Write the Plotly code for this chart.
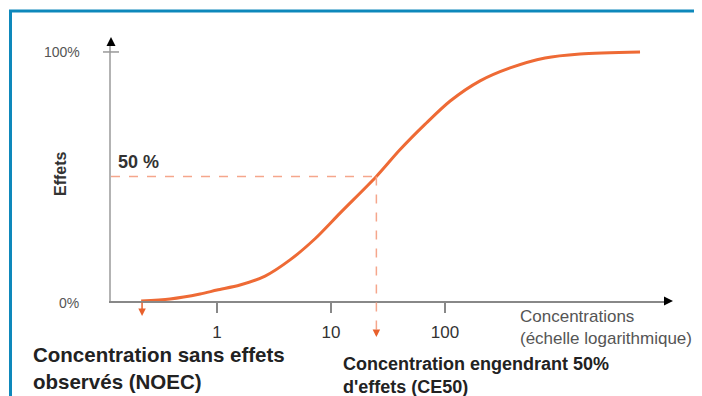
import math
import plotly.graph_objects as go

# ---- data ----
concentration = [0.216, 0.387, 0.71, 1.0, 1.59, 2.64, 4.37, 7.24, 12.0, 25.0,
                 40.0, 67.0, 111.0, 203.0, 372.0, 754.0, 1528.0, 5136.0]
effect_pct = [0.0, 0.8, 2.8, 4.4, 6.4, 10.0, 16.5, 25.0, 35.3, 50.0,
              60.6, 71.0, 80.3, 88.4, 93.6, 97.6, 99.2, 100.0]
x_tick_vals = [1, 10, 100]
x_tick_text = ["1", "10", "100"]
noec = 0.22
ce50 = 25.0
ce50_effect = 50

# ---- layout geometry (page pixels; page body has an 8px margin) ----
OFF = 8
PAGE_W, PAGE_H = 702, 396
W, H = PAGE_W - OFF, PAGE_H - OFF
PLOT_L, PLOT_R, PLOT_T, PLOT_B = 111, 668, 44, 301   # plot area in page pixels
L, T = PLOT_L - OFF, PLOT_T - OFF
R, B = PAGE_W - PLOT_R, PAGE_H - PLOT_B
PW, PH = PLOT_R - PLOT_L, PLOT_B - PLOT_T
XMIN, XMAX = -0.93, 3.956
YMAX = 103.2

def px(x):
    return (x - PLOT_L) / PW

def py(y):
    return (PLOT_B - y) / PH

orange = "#ee6a35"
arrow_col = "#e8602c"
dash_col = "#f5a68c"
blue = "#0e88bb"
font_fam = "Liberation Sans, Arial, sans-serif"

fig = go.Figure()
fig.add_trace(go.Scatter(
    x=concentration, y=effect_pct, mode="lines",
    line=dict(color=orange, width=3, shape="spline", smoothing=0.8),
    hoverinfo="skip", showlegend=False,
))

shapes = [
    # frame
    dict(type="line", xref="paper", yref="paper", x0=px(9), x1=px(702), y0=py(11), y1=py(11),
         line=dict(color=blue, width=3)),
    dict(type="line", xref="paper", yref="paper", x0=px(10.5), x1=px(10.5), y0=py(10), y1=py(400),
         line=dict(color=blue, width=3)),
    # axis arrows
    dict(type="path", xref="paper", yref="paper",
         path=f"M {px(111)},{py(37)} L {px(106.5)},{py(46)} L {px(115.5)},{py(46)} Z",
         fillcolor="black", line=dict(color="black", width=0)),
    dict(type="path", xref="paper", yref="paper",
         path=f"M {px(673)},{py(301)} L {px(664)},{py(296.5)} L {px(664)},{py(305.5)} Z",
         fillcolor="black", line=dict(color="black", width=0)),
    # 100% tick
    dict(type="line", xref="paper", yref="y", x0=px(103), x1=px(119), y0=100, y1=100,
         line=dict(color="#999999", width=1.5)),
    # dashed guides
    dict(type="line", xref="x", yref="y", x0=10 ** XMIN, x1=ce50, y0=ce50_effect, y1=ce50_effect,
         line=dict(color=dash_col, width=1.5, dash="dash")),
    dict(type="line", xref="x", yref="paper", x0=ce50, x1=ce50, y0=ce50_effect / YMAX, y1=py(331),
         line=dict(color=dash_col, width=1.5, dash="dash")),
]

annotations = [
    dict(text="100%", xref="paper", yref="y", x=px(82), y=100, xanchor="right", yanchor="middle",
         showarrow=False, font=dict(size=14, color="#555555", family=font_fam)),
    dict(text="0%", xref="paper", yref="paper", x=px(81), y=py(303), xanchor="right", yanchor="middle",
         showarrow=False, font=dict(size=14, color="#555555", family=font_fam)),
    dict(text="<b>Effets</b>", xref="paper", yref="paper", x=px(60), y=py(174), textangle=-90,
         xanchor="center", yanchor="middle", showarrow=False,
         font=dict(size=16, color="#333333", family=font_fam)),
    dict(text="<b>50 %</b>", xref="paper", yref="paper", x=px(116), y=py(162), xanchor="left",
         yanchor="middle", showarrow=False, font=dict(size=18, color="#333333", family=font_fam)),
    dict(text="Concentrations<br>(échelle logarithmique)", xref="paper", yref="paper",
         x=px(518), y=py(327.5), xanchor="left", yanchor="middle", align="left", showarrow=False,
         font=dict(size=17, color="#555555", family=font_fam)),
    dict(text="<b>Concentration sans effets<br>observés (NOEC)</b>", xref="paper", yref="paper",
         x=px(31), y=py(368), xanchor="left", yanchor="middle", align="left", showarrow=False,
         font=dict(size=20.5, color="#222222", family=font_fam)),
    dict(text="<b>Concentration engendrant 50%<br>d'effets (CE50)</b>", xref="paper", yref="paper",
         x=px(341), y=py(375.5), xanchor="left", yanchor="middle", align="left", showarrow=False,
         font=dict(size=18, color="#222222", family=font_fam)),
    # arrows
    dict(text="", xref="x", yref="paper", x=math.log10(noec), y=py(316), ax=0, ay=-15,
         showarrow=True, arrowhead=2, arrowsize=1, arrowwidth=1.5, arrowcolor=arrow_col),
    dict(text="", xref="x", yref="paper", x=math.log10(ce50), y=py(337), ax=0, ay=-8,
         showarrow=True, arrowhead=2, arrowsize=1, arrowwidth=1.5, arrowcolor=arrow_col),
]

fig.update_layout(
    width=W, height=H,
    margin=dict(l=L, r=R, t=T, b=B, pad=0),
    paper_bgcolor="white", plot_bgcolor="white",
    shapes=shapes, annotations=annotations,
    font=dict(family=font_fam),
    xaxis=dict(type="log", range=[XMIN, XMAX], showgrid=False, zeroline=False,
               showline=True, linecolor="#888888", linewidth=1.5,
               ticks="outside", ticklen=10, tickwidth=1.5, tickcolor="#888888",
               tickvals=x_tick_vals, ticktext=x_tick_text, ticklabelstandoff=5,
               tickfont=dict(size=17, color="#333333", family=font_fam)),
    yaxis=dict(range=[0, YMAX], showgrid=False, zeroline=False,
               showline=True, linecolor="#b3b3b3", linewidth=2,
               showticklabels=False, ticks=""),
)

fig.write_html("out.html")
